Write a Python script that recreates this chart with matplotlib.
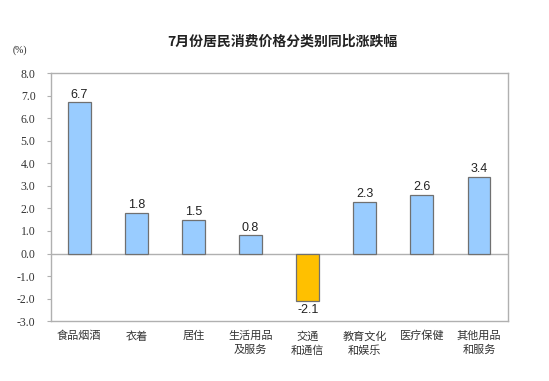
import matplotlib.pyplot as plt

plt.rcParams['font.family'] = ['Noto Sans CJK SC', 'DejaVu Sans']

categories = ["食品烟酒", "衣着", "居住", "生活用品\n及服务", "交通\n和通信",
              "教育文化\n和娱乐", "医疗保健", "其他用品\n和服务"]
values = [6.7, 1.8, 1.5, 0.8, -2.1, 2.3, 2.6, 3.4]
yticks = [8.0, 7.0, 6.0, 5.0, 4.0, 3.0, 2.0, 1.0, 0.0, -1.0, -2.0, -3.0]

fig = plt.figure(figsize=(5.49, 3.81), dpi=100)
ax = fig.add_axes([0.0925, 0.157, 0.832, 0.651])

x = range(len(values))
colors = ["#99CCFF" if v >= 0 else "#FFC000" for v in values]
ax.bar(x, values, width=0.4, color=colors, edgecolor="#707070", linewidth=0.9, zorder=3)

for i, v in enumerate(values):
    if v >= 0:
        ax.text(i, v + 0.08, f"{v:.1f}", ha="center", va="bottom", fontsize=9,
                family="Liberation Sans", color="#222222")
    else:
        ax.text(i, v - 0.15, f"{v:.1f}", ha="center", va="top", fontsize=9,
                family="Liberation Sans", color="#222222")

ax.axhline(0, color="#b0b0b0", linewidth=1.0, zorder=2)

ax.set_xlim(-0.5, len(values) - 0.5)
ax.set_ylim(-3.0, 8.0)
ax.set_yticks(yticks)
ax.set_yticklabels([f"{t:.1f}" for t in yticks], family="Liberation Serif", fontsize=8.5, color="#333333")
ax.set_xticks(list(x))
ax.set_xticklabels(categories, fontsize=8, color="#333333", linespacing=1.45, va="top")
ax.tick_params(axis="x", length=0, pad=7)
ax.tick_params(axis="y", length=3, color="#b0b0b0", pad=8)

for s in ax.spines.values():
    s.set_color("#b0b0b0")
    s.set_linewidth(1.0)

fig.text(0.515, 0.89, "7月份居民消费价格分类别同比涨跌幅", ha="center", va="center",
         fontsize=10, fontweight="bold", color="#222222")
fig.text(0.036, 0.868, "(%)", ha="center", va="center", fontsize=7,
         family="Liberation Serif", color="#222222")

fig.savefig("out.png", dpi=100)
